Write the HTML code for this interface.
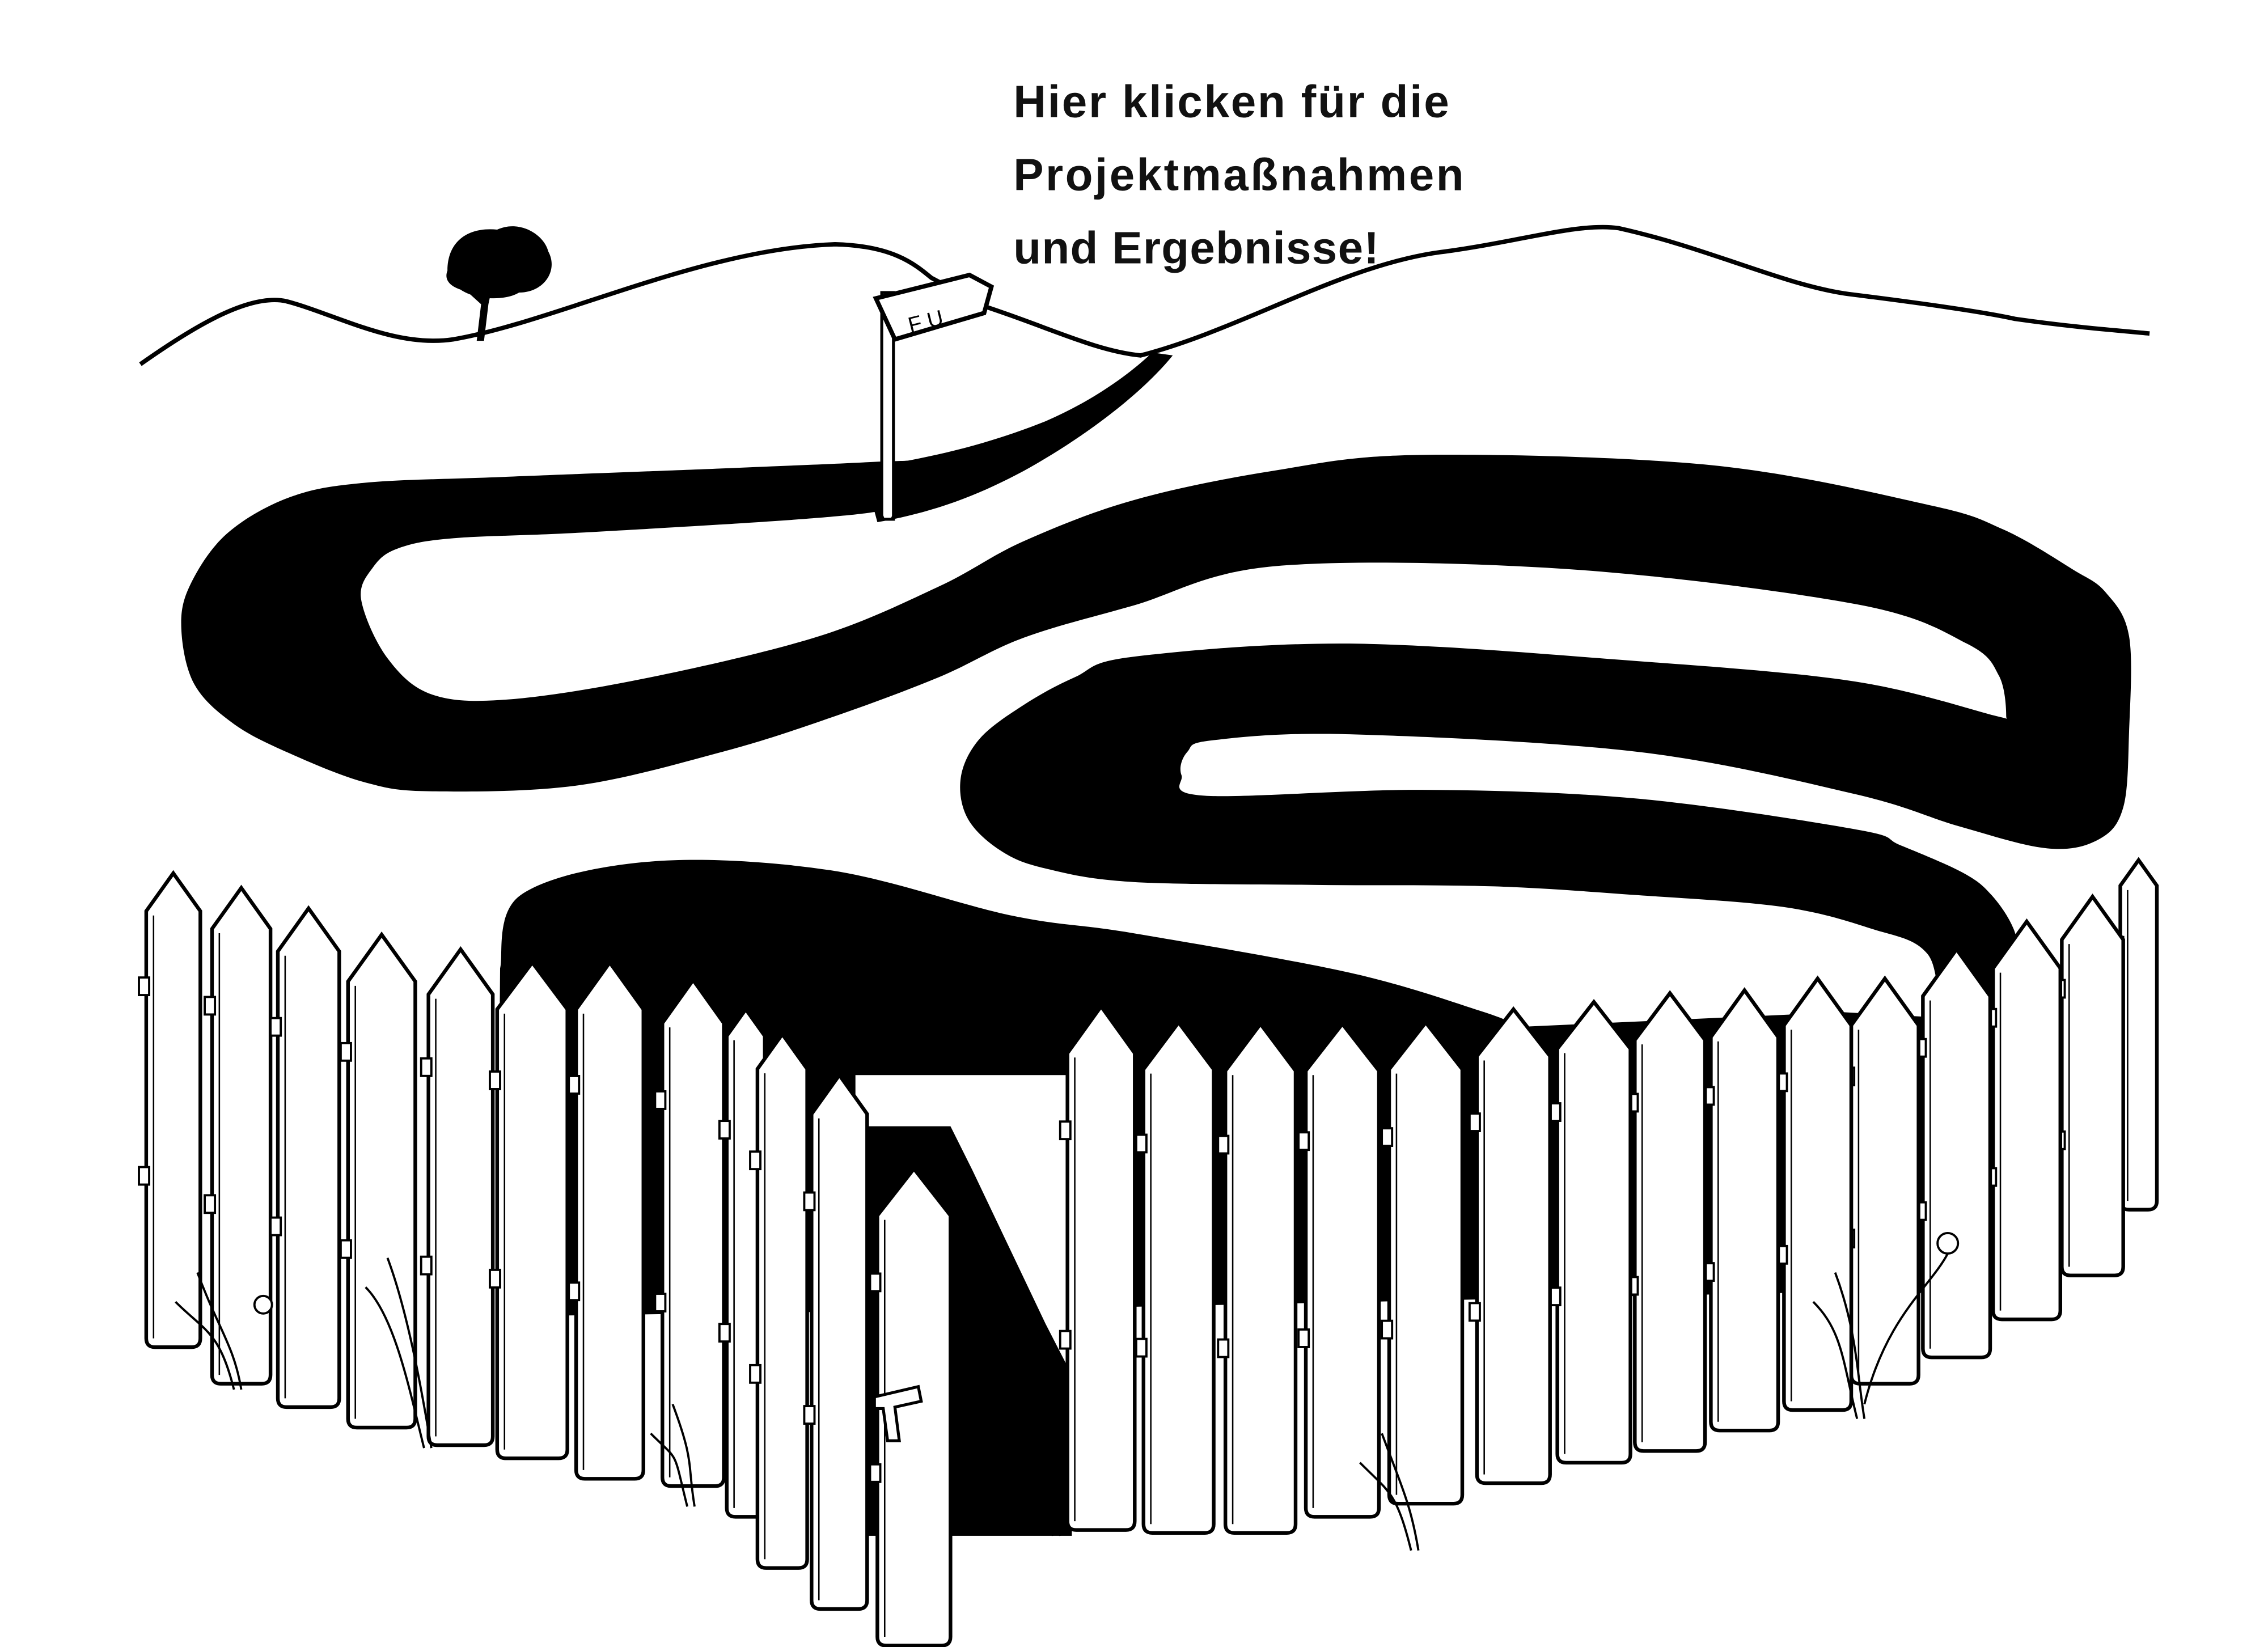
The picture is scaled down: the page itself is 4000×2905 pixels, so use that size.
<!DOCTYPE html>
<html><head><meta charset="utf-8">
<style>
html,body{margin:0;padding:0;background:#fff;}
svg{display:block;}
</style></head>
<body>
<svg id="s" width="4000" height="2905" viewBox="0 0 1551 1126" preserveAspectRatio="none" xmlns="http://www.w3.org/2000/svg">
<rect width="1551" height="1126" fill="#fff"/>
<!-- hills -->
<path d="M96,249 C130,225 170,200 196,206 C230,215 270,238 310,232 C380,220 480,170 571,167 C610,168 625,180 637,190 L675,210 C720,225 750,240 780,243 C850,225 920,180 988,172 C1040,165 1080,152 1107,156 C1170,170 1220,195 1264,201 C1320,208 1360,214 1378,218 C1420,224 1450,226 1470,228" fill="none" stroke="#000" stroke-width="3"/>
<!-- tree -->
<path d="M326,233 L329,208 L318,198 L331,203 L337,194 L334,208 L331,233 Z" fill="#000"/>
<path d="M306,185 C306,165 320,155 340,157 C355,150 372,160 375,172 C382,185 372,200 355,200 C345,206 325,205 315,198 C306,195 304,190 306,185 Z" fill="#000"/>
<path id="road" fill="#000"/>
<path d="M788,241 L802,243 C780,270 740,300 700,322 C670,338 640,350 600,357 L590,320 C640,313 680,302 715,288 C745,275 770,258 788,241 Z" fill="#000"/>
<path id="band5" fill="#000"/>
<!-- gate opening -->
<rect x="585" y="735" width="148" height="315" fill="#000"/>
<path d="M585,735 L733,735 L733,940 L715,905 L665,800 L650,770 L585,770 Z" fill="#fff"/>
<!-- flag -->
<rect x="603" y="200" width="8" height="155" fill="#fff" stroke="#000" stroke-width="2"/>
<path d="M604,355 L600,345 M610,355 L616,343" stroke="#000" stroke-width="2"/>
<path d="M599,204 L663,188 L678,196 L673,214 L612,232 Z" fill="#fff" stroke="#000" stroke-width="3"/>
<text x="620" y="223" font-family="Liberation Sans, sans-serif" font-size="15" transform="rotate(-14 640 215)">F U</text>
<g id="fence"></g>
<!-- text -->
<g font-family="Liberation Sans, sans-serif" font-weight="bold" font-size="31" fill="#111">
<text x="693" y="80" textLength="298">Hier klicken für die</text>
<text x="693" y="130" textLength="308">Projektmaßnahmen</text>
<text x="693" y="180" textLength="250">und Ergebnisse!</text>
</g>
</svg>
<script>
function smooth(pts){
  var n=pts.length,d='M'+pts[0][0]+','+pts[0][1];
  for(var i=0;i<n;i++){
    var p0=pts[(i-1+n)%n],p1=pts[i],p2=pts[(i+1)%n],p3=pts[(i+2)%n];
    var c1x=p1[0]+(p2[0]-p0[0])/6,c1y=p1[1]+(p2[1]-p0[1])/6;
    var c2x=p2[0]-(p3[0]-p1[0])/6,c2y=p2[1]-(p3[1]-p1[1])/6;
    d+=' C'+c1x.toFixed(1)+','+c1y.toFixed(1)+' '+c2x.toFixed(1)+','+c2y.toFixed(1)+' '+p2[0]+','+p2[1];
  }
  return d+' Z';
}
var road=[[700,300],[640,313],[593,316],[500,320],[346,326],[250,330],[198,340],[155,365],[130,400],[124,430],[133,468],[160,495],[198,515],[250,535],[296,541],[395,537],[494,514],[570,490],[642,463],[700,436],[775,414],[873,387],[1071,389],[1269,413],[1345,440],[1367,462],[1372,490],
[1367,490],[1269,466],[1120,452],[923,440],[775,449],[735,463],[700,482],[670,505],[657,532],[662,560],[685,582],[716,594],[775,603],[900,605],[1022,606],[1120,612],[1219,620],[1280,635],[1318,652],[1335,700],
[1392,700],[1382,660],[1377,635],[1362,612],[1343,597],[1300,578],[1269,567],[1120,546],[972,540],[824,544],[808,530],[812,514],[830,506],[923,502],[1120,514],[1269,543],[1340,565],[1400,580],[1435,574],[1452,552],[1456,500],[1456,435],[1440,405],[1417,389],[1370,362],[1318,345],[1170,318],[972,311],[870,322],[775,342],[700,370],[642,401],[560,435],[445,463],[350,478],[296,475],[265,450],[247,410],[255,388],[272,375],[310,368],[400,364],[560,354],[617,346],[660,330]];
document.getElementById('road').setAttribute('d',smooth(road));
var b5top=[[342,662],[356,612],[445,589],[568,595],[692,626],[775,638],[923,665],[1012,691],[1040,702]];
var d='M340,900 L'+b5top[0][0]+','+b5top[0][1];
for(var i=0;i<b5top.length-1;i++){var p0=b5top[Math.max(i-1,0)],p1=b5top[i],p2=b5top[i+1],p3=b5top[Math.min(i+2,b5top.length-1)];
d+=' C'+(p1[0]+(p2[0]-p0[0])/6)+','+(p1[1]+(p2[1]-p0[1])/6)+' '+(p2[0]-(p3[0]-p1[0])/6)+','+(p2[1]-(p3[1]-p1[1])/6)+' '+p2[0]+','+p2[1];}
d+=' L1260,692 L1405,700 L1405,880 L700,895 Z';
document.getElementById('band5').setAttribute('d',d);
var g=document.getElementById('fence');
var p=[
[1450,25,588,827],[1410,42,613,872],[1363,46,630,902],[1315,46,649,928],[1266,46,669,946],[1220,46,669,964],[1170,46,677,978],[1118,48,679,992],[1065,50,685,1000],[1010,50,690,1014],[950,50,699,1028],[893,50,700,1037],[838,48,700,1048],[782,48,699,1048],[730,46,688,1046],
[100,37,597,921],[145,40,607,946],[190,42,621,962],[238,46,639,976],[293,44,649,988],[340,48,658,997],[394,46,658,1011],[453,42,670,1016],[497,26,690,1037],[518,34,707,1072],[555,38,735,1100],[600,50,799,1125]];
var h='';
p.forEach(function(a){var x=a[0],w=a[1],t=a[2],b=a[3],r=6;
var pk=Math.min(32,w*0.7);
h+='<path d="M'+x+','+(t+pk)+' L'+(x+w/2)+','+t+' L'+(x+w)+','+(t+pk)+' L'+(x+w)+','+(b-r)+' Q'+(x+w)+','+b+' '+(x+w-r)+','+b+' L'+(x+r)+','+b+' Q'+x+','+b+' '+x+','+(b-r)+' Z" fill="#fff" stroke="#000" stroke-width="2.5"/>';
h+='<line x1="'+(x+5)+'" y1="'+(t+pk+3)+'" x2="'+(x+5)+'" y2="'+(b-6)+'" stroke="#000" stroke-width="1"/>';
var r1=t+(b-t)*0.22,r2=t+(b-t)*0.62;
h+='<rect x="'+(x-5)+'" y="'+r1+'" width="7" height="12" fill="#fff" stroke="#000" stroke-width="1.5"/>';
h+='<rect x="'+(x-5)+'" y="'+r2+'" width="7" height="12" fill="#fff" stroke="#000" stroke-width="1.5"/>';
});
h+='<path d="M598,955 L628,948 L630,958 L612,962 L615,985 L607,985 L604,963 L598,963 Z" fill="#fff" stroke="#000" stroke-width="2"/>';
var gr=[[120,890,160,950],[250,880,290,990],[445,980,470,1030],[930,1000,965,1060],[1240,890,1270,970],[690,950,720,1050]];
gr.forEach(function(q){h+='<path d="M'+q[0]+','+q[1]+' C'+(q[0]+20)+','+(q[1]+20)+' '+(q[2]-10)+','+(q[3]-40)+' '+q[2]+','+q[3]+' M'+(q[0]+15)+','+(q[1]-20)+' C'+(q[0]+30)+','+(q[1]+20)+' '+(q[2])+','+(q[3]-30)+' '+(q[2]+5)+','+q[3]+'" fill="none" stroke="#000" stroke-width="1.5"/>';});
h+='<circle cx="180" cy="892" r="6" fill="#fff" stroke="#000" stroke-width="1.5"/><circle cx="1332" cy="850" r="7" fill="#fff" stroke="#000" stroke-width="1.5"/>';
h+='<path d="M1332,857 C1320,880 1290,900 1275,960" fill="none" stroke="#000" stroke-width="1.5"/>';
g.innerHTML=h;
</script>
</body></html>
